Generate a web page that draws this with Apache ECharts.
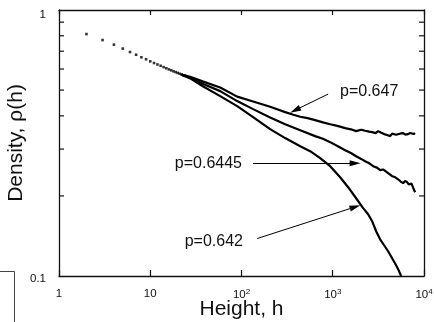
<!DOCTYPE html>
<html>
<head>
<meta charset="utf-8">
<script src="https://cdn.jsdelivr.net/npm/echarts@6/dist/echarts.min.js"></script>
<style>
html,body{margin:0;padding:0;background:#fff;}
#c{width:434px;height:322px;}
</style>
</head>
<body>
<div id="c"></div>
<script>
// ---- data ----
const xTickValues = [1, 10, 100, 1000, 10000];
const yTickLabels = { 1: '1', 0.1: '0.1' };
const yMinorTicks = [0.2, 0.3, 0.4, 0.5, 0.6, 0.7, 0.8, 0.9];

// shared early points (all three p values overlap)
const dotH   = [2, 3, 4, 5, 6, 7, 8, 9, 10, 11, 12, 13, 14, 15, 16, 17, 18, 19, 20, 21, 22, 23, 24];
const dotRho = [0.812, 0.771, 0.741, 0.716, 0.695, 0.679, 0.664, 0.653, 0.641, 0.632, 0.624, 0.617,
                0.610, 0.604, 0.598, 0.593, 0.588, 0.584, 0.580, 0.576, 0.572, 0.568, 0.565];

// p = 0.647
const h647   = [22, 27.4, 38.1, 58.4, 89.7, 134, 206, 301, 370, 440, 530, 641, 780, 937, 1150, 1367, 1580, 1804, 2050, 2264, 2500, 2701, 2950, 3143, 3400, 3656, 3950, 4254, 4480, 4704, 4950, 5203, 5550, 5902, 6250, 6697, 7050, 7413, 7700, 7991];
const rho647 = [0.572, 0.561, 0.538, 0.511, 0.4725, 0.453, 0.433, 0.413, 0.404, 0.397, 0.392, 0.3855, 0.378, 0.372, 0.366, 0.3597, 0.356, 0.3504, 0.3545, 0.3515, 0.349, 0.3474, 0.3445, 0.3504, 0.3455, 0.3415, 0.339, 0.3356, 0.343, 0.346, 0.3395, 0.339, 0.3435, 0.3445, 0.340, 0.3415, 0.345, 0.346, 0.342, 0.3445];

// p = 0.6445
const h6445   = [22, 27.4, 38.1, 58.4, 89.7, 134, 206, 301, 440, 641, 780, 937, 1150, 1367, 1580, 1804, 2050, 2264, 2500, 2770, 3050, 3304, 3560, 3846, 4150, 4473, 4800, 5203, 5550, 5902, 6200, 6530, 6800, 7047, 7300, 7601, 7991];
const rho6445 = [0.572, 0.557, 0.5266, 0.4955, 0.4545, 0.424, 0.394, 0.372, 0.3534, 0.3356, 0.328, 0.3186, 0.307, 0.2972, 0.290, 0.282, 0.2755, 0.270, 0.2655, 0.2588, 0.2555, 0.250, 0.2515, 0.2466, 0.2420, 0.2372, 0.2355, 0.231, 0.2265, 0.2233, 0.2275, 0.2255, 0.2210, 0.2195, 0.2225, 0.215, 0.2065];

// p = 0.642
const h642   = [22, 27.4, 38.1, 58.4, 89.7, 134, 206, 301, 440, 565, 728, 937, 1205, 1475, 1804, 2153, 2443, 2701, 2988, 3304, 3656, 4045, 4473, 4947, 5339, 5613];
const rho642 = [0.572, 0.553, 0.5155, 0.4746, 0.435, 0.3957, 0.3565, 0.330, 0.3077, 0.2947, 0.2773, 0.2588, 0.2351, 0.2157, 0.196, 0.180, 0.1707, 0.1607, 0.1473, 0.1374, 0.1305, 0.1239, 0.1166, 0.1097, 0.1041, 0.100];

// annotation arrows (data space): [fromH, fromRho, toH, toRho]
const arrow647  = [890, 0.483, 387, 0.420];
const arrow6445 = [134, 0.2655, 1760, 0.2655];
const arrow642  = [148.6, 0.1383, 1760, 0.1818];

const FONT = '"Liberation Sans", Arial, Helvetica, sans-serif';
const zip = (a, b) => a.map((v, i) => [v, b[i]]);

const chart = echarts.init(document.getElementById('c'), null, { renderer: 'canvas' });

function arrowLine(a) {
  return [
    { coord: [a[0], a[1]], symbol: 'none' },
    { coord: [a[2], a[3]], symbol: 'path://M5,0 L10,16 L0,16 Z', symbolSize: [6, 11] }
  ];
}

const axisLineStyle = { color: '#111', width: 1.3 };

chart.setOption({
  animation: false,
  backgroundColor: '#fff',
  textStyle: { fontFamily: FONT, color: '#111' },
  grid: { left: 59, right: 10, top: 10, bottom: 46, containLabel: false, outerBoundsMode: 'none' },
  xAxis: [
    {
      type: 'log', logBase: 10, min: 1, max: 10000, position: 'bottom',
      axisLine: { show: true, lineStyle: axisLineStyle },
      axisTick: { show: true, inside: true, length: 6, lineStyle: { color: '#111', width: 1.2 } },
      splitLine: { show: false },
      axisLabel: {
        show: true, margin: 12, fontSize: 11.5, color: '#111', fontFamily: FONT,
        formatter: function (v) {
          const e = Math.round(Math.log10(v));
          if (e <= 1) return String(Math.round(v));
          return '10{s|' + e + '}';
        },
        rich: { s: { fontSize: 8, fontFamily: FONT, color: '#111', padding: [0, 0, 6, 0] } }
      },
      name: 'Height, h', nameLocation: 'middle', nameGap: 23, nameMoveOverlap: false,
      nameTextStyle: { fontSize: 21, fontFamily: FONT, color: '#111' }
    },
    {
      type: 'log', logBase: 10, min: 1, max: 10000, position: 'top',
      axisLine: { show: true, lineStyle: axisLineStyle },
      axisTick: { show: true, inside: true, length: 5, lineStyle: { color: '#111', width: 1.2 } },
      splitLine: { show: false },
      axisLabel: { show: false }
    }
  ],
  yAxis: [
    {
      type: 'log', logBase: 10, min: 0.1, max: 1, position: 'left',
      axisLine: { show: true, lineStyle: axisLineStyle },
      axisTick: { show: false },
      splitLine: { show: false },
      axisLabel: {
        show: true, margin: 13, fontSize: 11.5, color: '#111', fontFamily: FONT,
        formatter: function (v) {
          return v > 0.5 ? '{t|' + yTickLabels[1] + '}' : '{b|' + yTickLabels[0.1] + '}';
        },
        rich: {
          t: { fontSize: 11.5, fontFamily: FONT, color: '#111', padding: [10, 0, 0, 0] },
          b: { fontSize: 11.5, fontFamily: FONT, color: '#111', padding: [5, 0, 0, 0] }
        }
      },
      name: 'Density, ρ(h)', nameLocation: 'middle', nameGap: 32, nameMoveOverlap: false,
      nameTextStyle: { fontSize: 21, fontFamily: FONT, color: '#111' }
    },
    {
      type: 'log', logBase: 10, min: 0.1, max: 1, position: 'right',
      axisLine: { show: true, lineStyle: axisLineStyle },
      axisTick: { show: false },
      splitLine: { show: false },
      axisLabel: { show: false }
    }
  ],
  series: [
    {
      type: 'custom', name: 'minorTicks', silent: true, clip: false,
      data: yMinorTicks.map(v => [1, v]),
      renderItem: function (params, api) {
        const p = api.coord([1, api.value(1)]);
        const q = api.coord([10000, api.value(1)]);
        return {
          type: 'group',
          children: [
            { type: 'line', shape: { x1: p[0], y1: p[1], x2: p[0] + 5, y2: p[1] }, style: { stroke: '#111', lineWidth: 1.2 } },
            { type: 'line', shape: { x1: q[0] - 5, y1: q[1], x2: q[0], y2: q[1] }, style: { stroke: '#111', lineWidth: 1.2 } }
          ]
        };
      }
    },
    {
      type: 'scatter', name: 'shared', silent: true,
      symbol: 'rect', symbolSize: 2.6,
      itemStyle: { color: '#000' },
      data: zip(dotH, dotRho)
    },
    {
      type: 'line', name: 'p=0.647', silent: true, showSymbol: false,
      lineStyle: { color: '#000', width: 2.2 },
      data: zip(h647, rho647),
      markLine: {
        silent: true, animation: false,
        label: { show: false },
        lineStyle: { color: '#000', width: 1, type: 'solid' },
        data: [arrowLine(arrow647), arrowLine(arrow6445), arrowLine(arrow642)]
      }
    },
    {
      type: 'line', name: 'p=0.6445', silent: true, showSymbol: false,
      lineStyle: { color: '#000', width: 2.2 },
      data: zip(h6445, rho6445)
    },
    {
      type: 'line', name: 'p=0.642', silent: true, showSymbol: false,
      lineStyle: { color: '#000', width: 2.2 },
      data: zip(h642, rho642)
    }
  ],
  graphic: [
    { type: 'text', x: 340, y: 92, silent: true,
      style: { text: 'p=0.647', fontSize: 16, fontFamily: FONT, fill: '#111', align: 'left', verticalAlign: 'middle' } },
    { type: 'text', x: 242, y: 164, silent: true,
      style: { text: 'p=0.6445', fontSize: 16, fontFamily: FONT, fill: '#111', align: 'right', verticalAlign: 'middle' } },
    { type: 'text', x: 243, y: 241.5, silent: true,
      style: { text: 'p=0.642', fontSize: 16, fontFamily: FONT, fill: '#111', align: 'right', verticalAlign: 'middle' } },
    { type: 'line', silent: true, shape: { x1: 0, y1: 271.5, x2: 14.5, y2: 271.5 }, style: { stroke: '#444', lineWidth: 1 } },
    { type: 'line', silent: true, shape: { x1: 14.5, y1: 271.5, x2: 14.5, y2: 322 }, style: { stroke: '#444', lineWidth: 1 } }
  ]
});
</script>
</body>
</html>
